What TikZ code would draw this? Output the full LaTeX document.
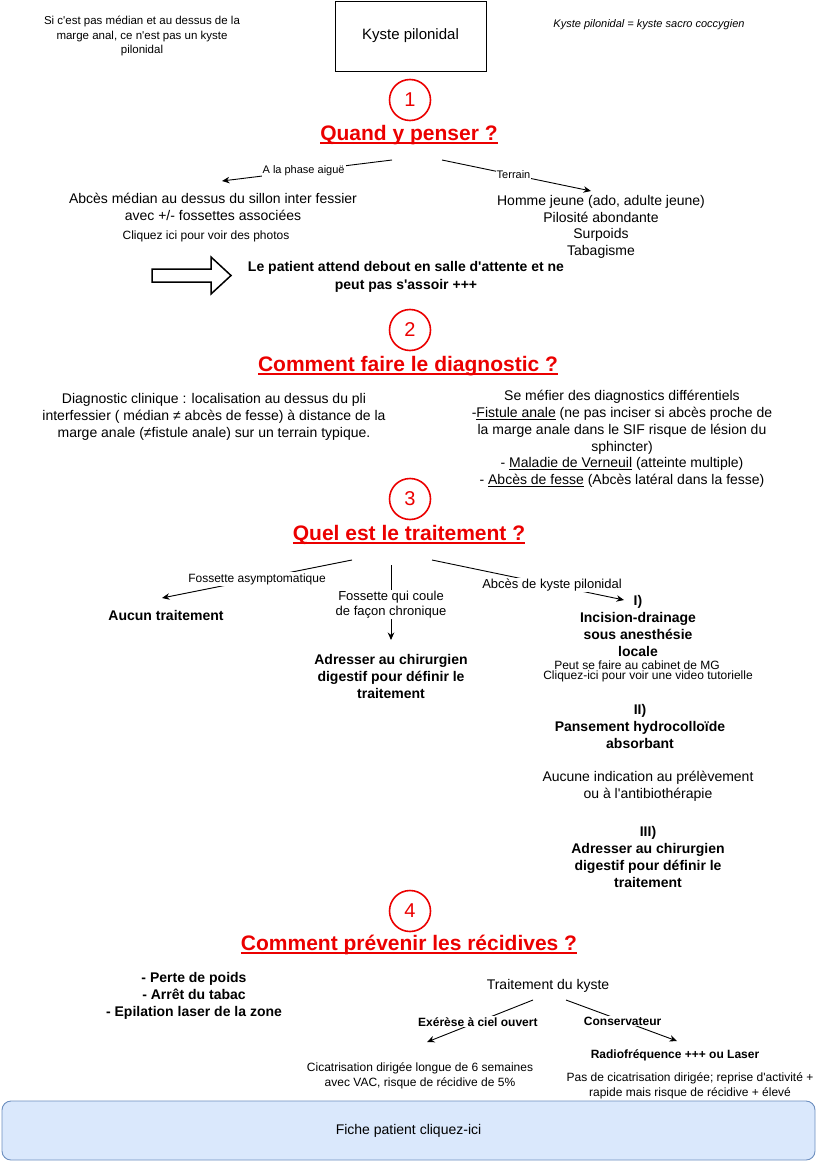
\documentclass[tikz,border=0pt]{standalone}
\usepackage{fontspec}
\setmainfont{Liberation Sans}
\usetikzlibrary{arrows.meta}
\definecolor{tred}{RGB}{235,0,0}
\definecolor{boxfill}{HTML}{DAE8FC}
\definecolor{boxdraw}{HTML}{6C8EBF}
\newsavebox\myulbox
\newcommand{\ulx}[3]{\sbox\myulbox{#3}\usebox\myulbox\kern-\wd\myulbox\vrule width \wd\myulbox height \dimexpr-#1\relax depth \dimexpr#1+#2\relax\relax}
\newcommand{\ttlul}[1]{\ulx{1.6pt}{1.6pt}{#1}}
\newcommand{\bodyul}[1]{\ulx{1.3pt}{0.8pt}{#1}}
\newcommand{\ap}{\textquotesingle}
\begin{document}
\begin{tikzpicture}[x=1pt,y=-1pt,
  every node/.style={inner sep=0pt, align=center},
  body/.style={font=\fontsize{14}{17}\selectfont},
  bodyb/.style={font=\bfseries\fontsize{14}{17}\selectfont},
  small/.style={font=\fontsize{12}{15}\selectfont},
  smallb/.style={font=\bfseries\fontsize{12}{15}\selectfont},
  lbl/.style={fill=white, inner sep=1pt, font=\fontsize{11}{13}\selectfont},
  lblm/.style={fill=white, inner sep=1pt, font=\fontsize{13}{15}\selectfont},
  lbls/.style={fill=white, inner sep=1pt, font=\fontsize{12}{14}\selectfont},
  lblb/.style={fill=white, inner sep=1pt, font=\bfseries\fontsize{12}{14}\selectfont},
  numc/.style={circle, draw=tred, line width=1.6pt, minimum size=41pt, text=tred, font=\fontsize{20}{24}\selectfont},
  ttl/.style={text=tred, font=\bfseries\fontsize{21}{25}\selectfont},
  arr/.style={draw=black, line width=0.9pt, -{Stealth[length=7.5pt,width=6.5pt]}},
  blockarrow/.style={draw=black, line width=1.5pt, line join=miter}
]
\useasboundingbox (0,0) rectangle (818,1161);

% ---------- top ----------
\node[font=\fontsize{11.5}{14.5}\selectfont] (noteL) at (142,36) {Si c\ap est pas médian et au dessus de la\\marge anal, ce n\ap est pas un kyste\\pilonidal};
\node[draw, line width=0.9pt, minimum width=151pt, minimum height=70pt, font=\fontsize{15}{18}\selectfont] (kyste) at (410.5,36) {Kyste pilonidal};
\node[font=\itshape\fontsize{11}{13}\selectfont] (noteR) at (649,25) {Kyste pilonidal = kyste sacro coccygien};

% ---------- section 1 ----------
\node[numc] (n1) at (410,100) {1};
\node[ttl] (t1) at (409,135) {\ttlul{Quand y penser ?}};
\coordinate (t1l) at (392,160);
\coordinate (t1r) at (442,160);
\node[body] (abces) at (213,206.5) {Abcès médian au dessus du sillon inter fessier\\avec +/- fossettes associées};
\node[small] (photos) at (206,236) {Cliquez ici pour voir des photos};
\node[font=\fontsize{14}{16.7}\selectfont] (terrain) at (601,227) {Homme jeune (ado, adulte jeune)\\Pilosité abondante\\Surpoids\\Tabagisme};
\coordinate (abcesTip) at (222,181);
\coordinate (terrainTip) at (591,191);
\draw[arr] (t1l) -- node[lbl, pos=0.52] (lphase) {A la phase aiguë} (abcesTip);
\draw[arr] (t1r) -- node[lbl, pos=0.48] (lterrain) {Terrain} (terrainTip);
\draw[blockarrow] (152,269) -- (211,269) -- (211,257) -- (231,275.5) -- (211,294) -- (211,282) -- (152,282) -- cycle;
\node[font=\bfseries\fontsize{14}{18}\selectfont] (debout) at (406,277) {Le patient attend debout en salle d\ap attente et ne\\peut pas s\ap assoir +++};

% ---------- section 2 ----------
\node[numc] (n2) at (410,330) {2};
\node[ttl] (t2) at (408,366) {\ttlul{Comment faire le diagnostic ?}};
\node[body] (diag) at (214,417) {Diagnostic clinique : localisation au dessus du pli\\interfessier ( médian ≠ abcès de fesse) à distance de la\\marge anale (≠fistule anale) sur un terrain typique.};
\node[font=\fontsize{14}{16.8}\selectfont] (diff) at (622,439) {Se méfier des diagnostics différentiels\\-\bodyul{Fistule anale} (ne pas inciser si abcès proche de\\la marge anale dans le SIF risque de lésion du\\sphincter)\\- \bodyul{Maladie de Verneuil} (atteinte multiple)\\- \bodyul{Abcès de fesse} (Abcès latéral dans la fesse)};

% ---------- section 3 ----------
\node[numc] (n3) at (410,499) {3};
\node[ttl] (t3) at (409,535) {\ttlul{Quel est le traitement ?}};
\coordinate (t3l) at (352,560);
\coordinate (t3m) at (391,565);
\coordinate (t3r) at (432,560);
\node[bodyb] (aucun) at (166,615) {Aucun traitement};
\node[bodyb] (adr1) at (391,676) {Adresser au chirurgien\\digestif pour définir le\\traitement};
\node[font=\bfseries\fontsize{14}{16.7}\selectfont] (inc) at (638,626) {I)\\Incision-drainage\\sous anesthésie\\locale};
\coordinate (aucunTip) at (162,598);
\coordinate (adrTip) at (391,640);
\coordinate (incTip) at (624,600);
\draw[arr] (t3l) -- node[lbls, pos=0.5] (lfa) {Fossette asymptomatique} (aucunTip);
\draw[arr] (t3m) -- node[lblm, pos=0.53] (lfc) {Fossette qui coule\\de façon chronique} (adrTip);
\draw[arr] (t3r) -- node[lblm, pos=0.625] (lak) {Abcès de kyste pilonidal} (incTip);
\node[small] (cab) at (637,665) {Peut se faire au cabinet de MG};
\node[small] (video) at (648,676) {Cliquez-ici pour voir une video tutorielle};
\node[font=\bfseries\fontsize{14}{17}\selectfont] (pans) at (640,726) {II)\\Pansement hydrocolloïde\\absorbant};
\node[body] (prel) at (648,786) {Aucune indication au prélèvement\\ou à l\ap antibiothérapie};
\node[font=\bfseries\fontsize{14}{16.7}\selectfont] (adr2) at (648,857) {III)\\Adresser au chirurgien\\digestif pour définir le\\traitement};

% ---------- section 4 ----------
\node[numc] (n4) at (410,911) {4};
\node[ttl] (t4) at (409,945) {\ttlul{Comment prévenir les récidives ?}};
\node[bodyb] (prev) at (194,996) {- Perte de poids\\- Arrêt du tabac\\- Epilation laser de la zone};
\node[body] (trait) at (548,986) {Traitement du kyste};
\coordinate (trl) at (533,1000);
\coordinate (trr) at (566,1000);
\coordinate (exTip) at (427,1042);
\coordinate (consTip) at (677,1041);
\draw[arr] (trl) -- node[lblb, pos=0.52] (lex) {Exérèse à ciel ouvert} (exTip);
\draw[arr] (trr) -- node[lblb, pos=0.51] (lcons) {Conservateur} (consTip);
\node[smallb] (radio) at (675,1055) {Radiofréquence +++ ou Laser};
\node[small] (cica) at (420,1076) {Cicatrisation dirigée longue de 6 semaines\\avec VAC, risque de récidive de 5\%};
\node[font=\fontsize{12}{14.5}\selectfont] (pasc) at (690,1086) {Pas de cicatrisation dirigée; reprise d\ap activité +\\rapide mais risque de récidive + élevé};

% ---------- bottom ----------
\node[draw=boxdraw, fill=boxfill, rounded corners=9pt, line width=0.9pt, minimum width=813pt, minimum height=59pt, body] (fiche) at (408.5,1130.5) {Fiche patient cliquez-ici};
\end{tikzpicture}
\end{document}
